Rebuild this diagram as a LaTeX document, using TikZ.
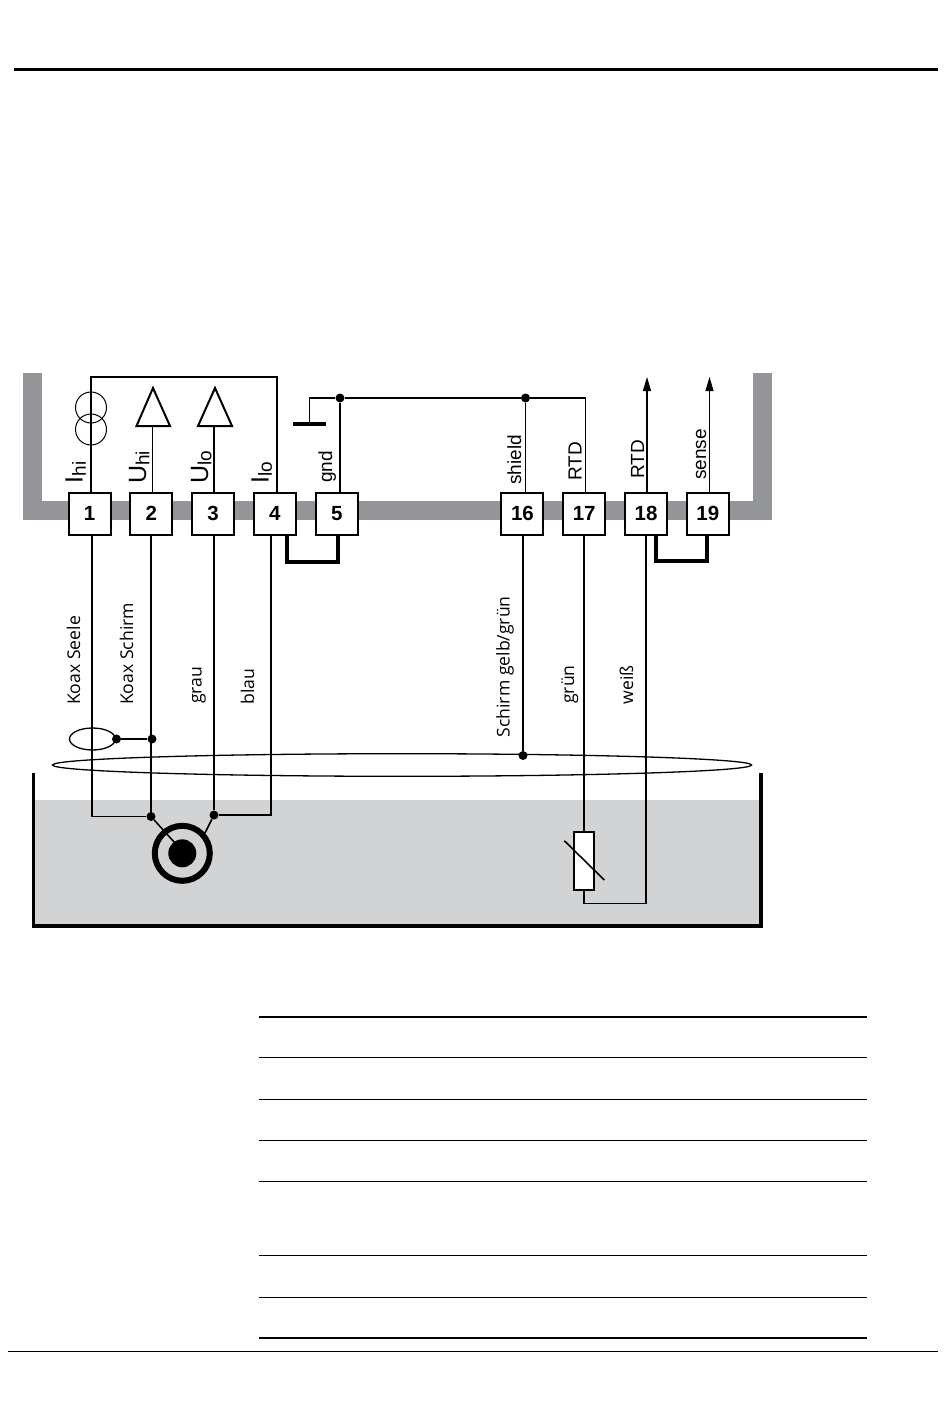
\documentclass[tikz,border=0pt]{standalone}
\usepackage{fontspec}
\setmainfont{Liberation Sans}
\newfontfamily\wirefont{Open Sans}
\usetikzlibrary{arrows.meta}
\definecolor{barGray}{HTML}{939598}
\definecolor{bathGray}{HTML}{D1D3D4}
\tikzstyle{terminal} = [rectangle, draw, line width=2pt, fill=white, minimum size=42pt, inner sep=0pt, text height=14.4pt, text depth=0pt, font=\fontsize{20.5}{20.5}\selectfont\bfseries]
\tikzstyle{opamp} = [draw, line width=2pt, fill=white, line join=miter]
\tikzstyle{wire} = [draw, line width=1.1pt]
\tikzstyle{lead} = [draw, line width=1.6pt]
\tikzstyle{jumper} = [draw, line width=3.8pt, line join=miter]
\tikzstyle{dotJ} = [circle, fill=black, inner sep=0pt, minimum size=9pt]
\tikzstyle{sigLabel} = [rotate=90, anchor=base west, inner sep=0pt, font=\fontsize{19}{19}\selectfont]
\tikzstyle{wireLabel} = [rotate=90, anchor=base west, inner sep=0pt, font=\fontsize{17.6}{17.6}\selectfont\wirefont]
\tikzstyle{currentSrc} = [draw, circle, line width=1pt, minimum size=31pt, inner sep=0pt]
\tikzstyle{rule} = [draw, line width=1pt]
\newcommand{\bigSub}[2]{\fontsize{25}{25}\selectfont #1\raisebox{-3.4pt}{\fontsize{19}{19}\selectfont #2}}

\begin{document}
\begin{tikzpicture}[x=1pt, y=-1pt, node distance = 61.8pt]
  \useasboundingbox (0,0) rectangle (950,1402);

  % bath and housing
  \fill [bathGray] (33,800) rectangle (761,926);
  \draw [line width=3.7pt, line cap=butt, line join=miter] (33.5,772.5) -- (33.5,926) -- (761,926) -- (761,772.5);
  \draw [barGray, line width=19pt, line join=miter] (32.5,373) -- (32.5,510.5) -- (762.5,510.5) -- (762.5,373);

  % nodes
  \node [terminal] (term_1) at (89.5,513.5) {1};
  \node [terminal, right of=term_1] (term_2) {2};
  \node [terminal, right of=term_2] (term_3) {3};
  \node [terminal, right of=term_3] (term_4) {4};
  \node [terminal, right of=term_4] (term_5) {5};
  \node [terminal] (term_16) at (522.4,513.5) {16};
  \node [terminal, right of=term_16] (term_17) {17};
  \node [terminal, right of=term_17] (term_18) {18};
  \node [terminal, right of=term_18] (term_19) {19};

  \node [dotJ] (gnd_dot) at (340,398) {};
  \node [dotJ] (shield_dot) at (525.5,398) {};
  \coordinate (gnd_bar) at (309.5,423.5);
  \coordinate (rtd_top) at (585.5,398);
  \coordinate (ihi_top) at (91,377);
  \coordinate (ilo_top) at (277,377);
  \coordinate (tip_18) at (647,377);
  \coordinate (tip_19) at (709.5,377);

  \node [currentSrc] (source_a) at (91,407.5) {};
  \node [currentSrc] (source_b) at (91,429.5) {};

  \coordinate (amp_hi) at (152.7,426);
  \coordinate (amp_lo) at (214,426);

  \node [dotJ] (koax_loop_dot) at (116.5,739) {};
  \node [dotJ] (koax_dot) at (152,739) {};
  \node [dotJ] (shirm_dot) at (523,755.5) {};
  \node [dotJ] (cell_hi) at (151,816.5) {};
  \node [dotJ] (cell_lo) at (214,815) {};
  \coordinate (cell_1) at (91.7,816.5);
  \coordinate (cell_4) at (271,815);
  \coordinate (pt_bottom) at (584,903.5);
  \coordinate (pt_return) at (646,903.5);

  % labels
  \node [sigLabel] (lab_ihi) at (82.5,483.5) {\bigSub{I}{hi}};
  \node [sigLabel] (lab_uhi) at (146,484) {\bigSub{U}{hi}};
  \node [sigLabel] (lab_ulo) at (208,484) {\bigSub{U}{lo}};
  \node [sigLabel] (lab_ilo) at (268.5,483.5) {\bigSub{I}{lo}};
  \node [sigLabel] (lab_gnd) at (332,483) {gnd};
  \node [sigLabel] (lab_shield) at (521,485) {shield};
  \node [sigLabel] (lab_rtd_a) at (581.5,481) {RTD};
  \node [sigLabel] (lab_rtd_b) at (644,479) {RTD};
  \node [sigLabel] (lab_sense) at (706,480) {sense};

  \node [wireLabel] (lab_seele) at (80,705) {Koax Seele};
  \node [wireLabel] (lab_schirm) at (133,705) {Koax Schirm};
  \node [wireLabel] (lab_grau) at (201.5,704) {grau};
  \node [wireLabel] (lab_blau) at (254,704.5) {blau};
  \node [wireLabel] (lab_gelb) at (509.5,737.5) {Schirm gelb/grün};
  \node [wireLabel] (lab_gruen) at (574,704) {grün};
  \node [wireLabel] (lab_weiss) at (633,704.5) {weiß};

  % edges
  \path [wire] (term_1.north -| ihi_top) -- (ihi_top) -- (ilo_top) -- (term_4.north -| ilo_top);
  \draw [opamp] (136.5,426) -- (153,388) -- (170,426) -- cycle;
  \draw [opamp] (198,426) -- (215,388) -- (232,426) -- cycle;
  \path [wire] (term_2.north -| amp_hi) -- (amp_hi);
  \path [wire] (term_3.north -| amp_lo) -- (amp_lo);
  \path [wire] (gnd_bar) -- (gnd_bar |- gnd_dot) -- (gnd_dot) -- (shield_dot) -- (rtd_top) -- (term_17.north -| rtd_top);
  \path [wire] (gnd_dot) -- (term_5.north -| gnd_dot);
  \path [wire] (shield_dot) -- (term_16.north -| shield_dot);
  \draw [line width=4pt] (293,423.5) -- (326,423.5);
  \path [draw, line width=1.1pt, -{Triangle[length=14pt, width=8pt]}] (term_18.north -| tip_18) -- (tip_18);
  \path [draw, line width=1.1pt, -{Triangle[length=14pt, width=8pt]}] (term_19.north -| tip_19) -- (tip_19);

  \path [jumper] (286.7,535) -- (286.7,562) -- (338,562) -- (338,535);
  \path [jumper] (656,535) -- (656,561) -- (707.3,561) -- (707.3,535);

  % probe cables
  \draw [line width=1.3pt] (92.5,739) ellipse [x radius=23, y radius=11];
  \draw [line width=1.3pt] (402,765) ellipse [x radius=349.5, y radius=11.3];
  \path [lead] (term_1.south -| cell_1) -- (cell_1) -- (cell_hi);
  \path [lead] (term_2.south -| cell_hi) -- (cell_hi);
  \path [lead] (term_3.south -| cell_lo) -- (cell_lo);
  \path [lead] (term_4.south -| cell_4) -- (cell_4) -- (cell_lo);
  \path [lead] (koax_loop_dot) -- (koax_dot);
  \path [lead] (term_16.south -| shirm_dot) -- (shirm_dot);

  % conductivity cell
  \fill [black] (182.3,853.3) circle [radius=14];
  \draw [line width=6pt] (182.3,853.3) circle [radius=27.5];
  \path [lead] (cell_hi) -- (175,843);
  \path [lead] (cell_lo) -- (205,833);

  % pt sensor
  \node [draw, fill=white, line width=1.6pt, minimum width=20.5pt, minimum height=58.5pt, inner sep=0pt] (pt_box) at (584,861) {};
  \path [lead] (term_17.south -| pt_box) -- (pt_box.north);
  \path [lead] (term_18.south -| pt_return) -- (pt_return) -- (pt_bottom) -- (pt_box.south);
  \draw [line width=1.6pt] (564.3,840.7) -- (604.3,880);

  % page rules
  \draw [line width=3pt] (14,70) -- (938,70);
  \draw [line width=1pt] (8,1351) -- (938,1351);
  \draw [line width=2.5pt] (259,1017) -- (867,1017);
  \foreach \ypos in {1057,1099,1140,1181,1255,1297}
    \path [rule] (259,\ypos) -- (867,\ypos);
  \draw [line width=2.5pt] (259,1338) -- (867,1338);
\end{tikzpicture}
\end{document}
